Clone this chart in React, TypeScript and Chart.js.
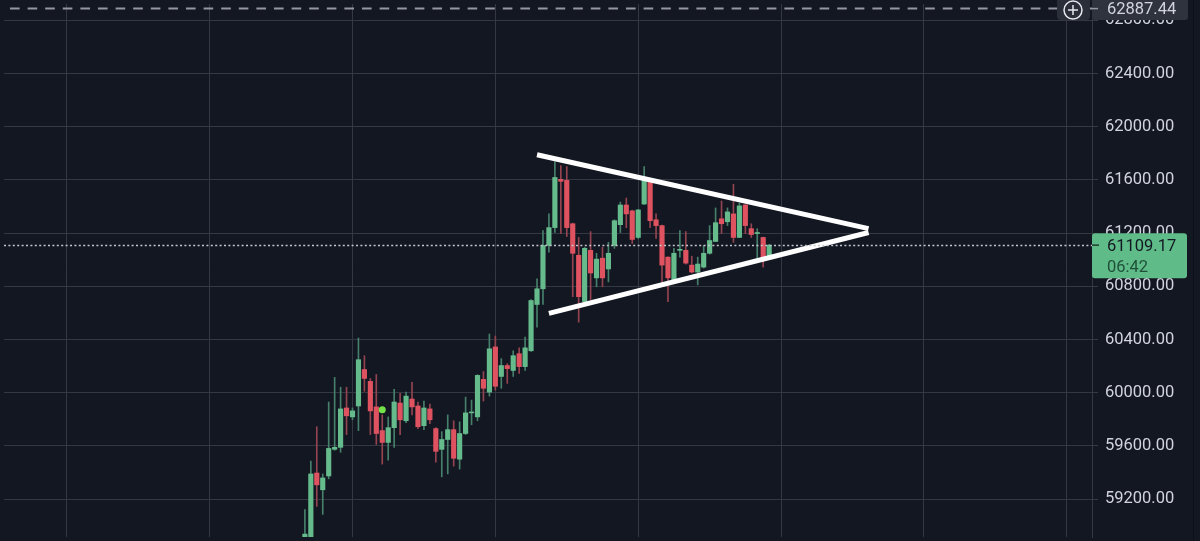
import React, { useEffect, useRef } from "react";
import { Chart, registerables } from "chart.js";

Chart.register(...registerables);

// ---- Data (BTC candles, 79 bars) ----
const opens = [
  58811, 58800, 59396, 59270, 59374, 59574, 59589, 59885, 59818, 59900,
  60174, 60085, 59893, 59715, 59626, 59737, 59922, 59789, 59952, 59900,
  59752, 59878, 59730, 59574, 59648, 59722, 59500, 59693, 59848, 59818,
  60100, 60004, 60344, 60122, 60204, 60167, 60293, 60196, 60315, 60663,
  60781, 61107, 61241, 61604, 61596, 61270, 61033, 60685, 61070, 60863,
  61011, 60930, 61107, 61263, 61411, 61367, 61167, 61418, 61581, 61300,
  61256, 61019, 60848, 61070, 61070, 60959, 60907, 60944, 61048, 61137,
  61307, 61285, 61344, 61167, 61411, 61233, 61196, 61167, 61019,
];
const highs = [
  59122, 59485, 59744, 59389, 59930, 60115, 60041, 60041, 59885, 60411,
  60278, 60107, 60137, 59833, 59818, 60026, 59996, 60004, 60078, 59930,
  59937, 59915, 59737, 59707, 59833, 59789, 59781, 59967, 59944, 60135,
  60159, 60441, 60426, 60256, 60218, 60315, 60337, 60418, 60700, 60856,
  61218, 61344, 61737, 61707, 61700, 61275, 61167, 61092, 61211, 61048,
  61093, 61130, 61300, 61433, 61463, 61372, 61378, 61700, 61585, 61344,
  61260, 61022, 61085, 61218, 61211, 61026, 61019, 61107, 61256, 61389,
  61441, 61389, 61567, 61426, 61415, 61270, 61233, 61170, 61115,
];
const lows = [
  58774, 58760, 59145, 59085, 59352, 59567, 59552, 59685, 59796, 59715,
  60011, 59685, 59611, 59463, 59493, 59589, 59685, 59774, 59833, 59730,
  59722, 59767, 59478, 59367, 59389, 59448, 59426, 59685, 59759, 59789,
  59937, 59974, 60019, 60033, 60070, 60122, 60144, 60167, 60310, 60493,
  60663, 61056, 61204, 61196, 61174, 60722, 60530, 60678, 60700, 60796,
  60796, 60833, 61085, 61204, 61241, 61122, 61159, 61415, 61241, 61159,
  60833, 60685, 60841, 61019, 60967, 60900, 60811, 60937, 61041, 61135,
  61196, 61256, 61130, 61165, 61196, 61167, 60996, 60944, 61011,
];
const closes = [
  58937, 59389, 59307, 59359, 59581, 59589, 59878, 59826, 59863, 60248,
  60107, 59863, 59693, 59626, 59737, 59930, 59796, 59974, 59893, 59744,
  59885, 59796, 59559, 59648, 59722, 59507, 59693, 59848, 59855, 60130,
  60033, 60330, 60048, 60204, 60181, 60278, 60196, 60337, 60693, 60781,
  61107, 61241, 61618, 61589, 61241, 61048, 60722, 61085, 60900, 61004,
  60863, 61048, 61293, 61411, 61344, 61152, 61374, 61596, 61293, 61256,
  60959, 60863, 61048, 61078, 60974, 60907, 60967, 61048, 61144, 61278,
  61270, 61359, 61167, 61404, 61256, 61189, 61204, 61011, 61109.17,
];

const yTickValues = [59200, 59600, 60000, 60400, 60800, 61200, 61600, 62000, 62400, 62800];
const xGridValues = [-40, -16, 8, 32, 56, 80, 104, 128];

// Triangle trendlines (bar index, price)
const upperTrendX = [39.0, 94.7];
const upperTrendY = [61789, 61233];
const lowerTrendX = [41.0, 94.7];
const lowerTrendY = [60596, 61204];

// green marker
const markerX = [13];
const markerY = [59871];

const lastPrice = 61109.17;
const countdown = "06:42";
const highLinePrice = 62887.44;

const Y_MIN = 58915;
const Y_MAX = 62922;
const X_MIN = -50.55;
const X_MAX = 132.24;

const BG = "#131722";
const GRID = "#343843";
const UP = "#66bb8c";
const DOWN = "#df5360";
const UP_WICK = "#46806a";
const DOWN_WICK = "#944450";
const FONT = "Roboto, 'Noto Sans', sans-serif";

const overlayPlugin = {
  id: "overlay",
  beforeDraw(chart: any) {
    const { ctx, width, height } = chart;
    ctx.save();
    ctx.fillStyle = BG;
    ctx.fillRect(0, 0, width, height);
    ctx.restore();
  },
  afterDatasetsDraw(chart: any) {
    const { ctx, chartArea } = chart;
    const y = chart.scales.y;
    ctx.save();
    // dotted last price line
    const py = Math.round(y.getPixelForValue(lastPrice)) + 0.5;
    ctx.strokeStyle = "#c3c6ce";
    ctx.lineWidth = 1.5;
    ctx.setLineDash([2, 2.4]);
    ctx.beginPath();
    ctx.moveTo(chartArea.left, py);
    ctx.lineTo(chartArea.right, py);
    ctx.stroke();
    // dashed high line
    const hy = y.getPixelForValue(highLinePrice);
    ctx.strokeStyle = "#9598a1";
    ctx.lineWidth = 2;
    ctx.setLineDash([9.6, 8]);
    ctx.lineDashOffset = 11.6;
    ctx.beginPath();
    ctx.moveTo(chartArea.left, hy);
    ctx.lineTo(chartArea.right, hy);
    ctx.stroke();
    ctx.restore();
  },
  afterDraw(chart: any) {
    const { ctx, chartArea } = chart;
    const y = chart.scales.y;
    const right = chartArea.right;
    ctx.save();
    ctx.setLineDash([]);
    // plus button
    const hy = y.getPixelForValue(highLinePrice);
    ctx.fillStyle = "#2a2e39";
    ctx.beginPath();
    ctx.roundRect(right - 35, -6, 33, 26, 4);
    ctx.fill();
    const cx = right - 19, cy = hy + 1.5;
    ctx.strokeStyle = "#e6e8ee";
    ctx.lineWidth = 1.5;
    ctx.beginPath();
    ctx.arc(cx, cy, 9, 0, Math.PI * 2);
    ctx.stroke();
    ctx.beginPath();
    ctx.moveTo(cx - 5, cy);
    ctx.lineTo(cx + 5, cy);
    ctx.moveTo(cx, cy - 5);
    ctx.lineTo(cx, cy + 5);
    ctx.stroke();

    // high price label
    ctx.fillStyle = "#2f333e";
    ctx.beginPath();
    ctx.roundRect(right, -6, 96, 26, 3);
    ctx.fill();
    ctx.strokeStyle = "#9598a1";
    ctx.lineWidth = 1.5;
    ctx.beginPath();
    ctx.moveTo(right, hy);
    ctx.lineTo(right + 6, hy);
    ctx.stroke();
    ctx.fillStyle = "#d1d4dc";
    ctx.font = `16.5px ${FONT}`;
    ctx.textBaseline = "middle";
    ctx.textAlign = "left";
    ctx.fillText(highLinePrice.toFixed(2), right + 15, hy + 1.5);

    // last price label
    const py = y.getPixelForValue(lastPrice);
    ctx.fillStyle = "#5fbb88";
    ctx.beginPath();
    ctx.roundRect(right, py - 12, 95, 45, 3);
    ctx.fill();
    ctx.strokeStyle = "#1e3d2e";
    ctx.lineWidth = 1.5;
    ctx.beginPath();
    ctx.moveTo(right, py);
    ctx.lineTo(right + 7, py);
    ctx.stroke();
    ctx.fillStyle = "#131722";
    ctx.fillText(lastPrice.toFixed(2), right + 15, py + 1.5);
    ctx.fillStyle = "#1f5139";
    ctx.fillText(countdown, right + 15, py + 23);

    // right edge strip
    ctx.fillStyle = "#0d1018";
    ctx.fillRect(1193, 0, 1, chart.height);
    ctx.restore();
  },
};

export default function App() {
  const ref = useRef<HTMLCanvasElement>(null);

  useEffect(() => {
    const canvas = ref.current;
    if (!canvas) return;
    const upColor = (i: number) => (closes[i] >= opens[i] ? UP : DOWN);
    const wickColor = (i: number) => (closes[i] >= opens[i] ? UP_WICK : DOWN_WICK);

    const chart = new Chart(canvas, {
      type: "bar",
      data: {
        datasets: [
          {
            type: "line",
            data: upperTrendX.map((x, i) => ({ x, y: upperTrendY[i] })),
            borderColor: "#ffffff",
            borderWidth: 5,
            pointRadius: 0,
            order: 0,
          } as any,
          {
            type: "line",
            data: lowerTrendX.map((x, i) => ({ x, y: lowerTrendY[i] })),
            borderColor: "#ffffff",
            borderWidth: 5,
            pointRadius: 0,
            order: 0,
          } as any,
          {
            type: "line",
            data: markerX.map((x, i) => ({ x, y: markerY[i] })),
            showLine: false,
            pointRadius: 3.5,
            pointBackgroundColor: "#74e34a",
            pointBorderWidth: 0,
            order: 1,
          } as any,
          {
            type: "bar",
            data: opens.map((o, i) => ({ x: i, y: [o, closes[i]] })),
            backgroundColor: opens.map((_, i) => upColor(i)),
            barThickness: 4.5,
            grouped: false,
            order: 2,
          } as any,
          {
            type: "bar",
            data: lows.map((l, i) => ({ x: i, y: [l, highs[i]] })),
            backgroundColor: lows.map((_, i) => wickColor(i)),
            barThickness: 1,
            grouped: false,
            order: 3,
          } as any,
        ],
      },
      options: {
        responsive: false,
        animation: false,
        events: [],
        layout: { padding: 0 },
        plugins: {
          legend: { display: false },
          tooltip: { enabled: false },
        },
        scales: {
          x: {
            type: "linear",
            min: X_MIN,
            max: X_MAX,
            offset: false,
            afterBuildTicks: (s: any) => {
              s.ticks = xGridValues.map((v) => ({ value: v }));
            },
            afterFit: (s: any) => {
              s.height = 0;
              s.paddingLeft = 0;
              s.paddingRight = 0;
              s.paddingTop = 0;
              s.paddingBottom = 0;
            },
            ticks: { display: false },
            grid: { color: GRID, drawTicks: false, offset: false, lineWidth: 1 },
            border: { display: false },
          },
          y: {
            type: "linear",
            position: "right",
            min: Y_MIN,
            max: Y_MAX,
            afterBuildTicks: (s: any) => {
              s.ticks = yTickValues.map((v) => ({ value: v }));
            },
            afterFit: (s: any) => {
              s.width = 108;
              s.paddingTop = 0;
              s.paddingBottom = 0;
              s.paddingLeft = 0;
              s.paddingRight = 0;
            },
            grid: { color: GRID, drawTicks: true, tickLength: 6, lineWidth: 1 },
            border: { display: true, color: GRID },
            ticks: {
              color: "#d1d4dc",
              padding: 7,
              font: { family: FONT, size: 16.5 },
              callback: (v: any) => Number(v).toFixed(2),
            },
          },
        },
      } as any,
      plugins: [overlayPlugin],
    });
    return () => chart.destroy();
  }, []);

  return (
    <div style={{ position: "fixed", left: 0, top: 0, width: 1200, height: 541, background: BG }}>
      <canvas ref={ref} width={1200} height={541} style={{ display: "block" }} />
    </div>
  );
}
